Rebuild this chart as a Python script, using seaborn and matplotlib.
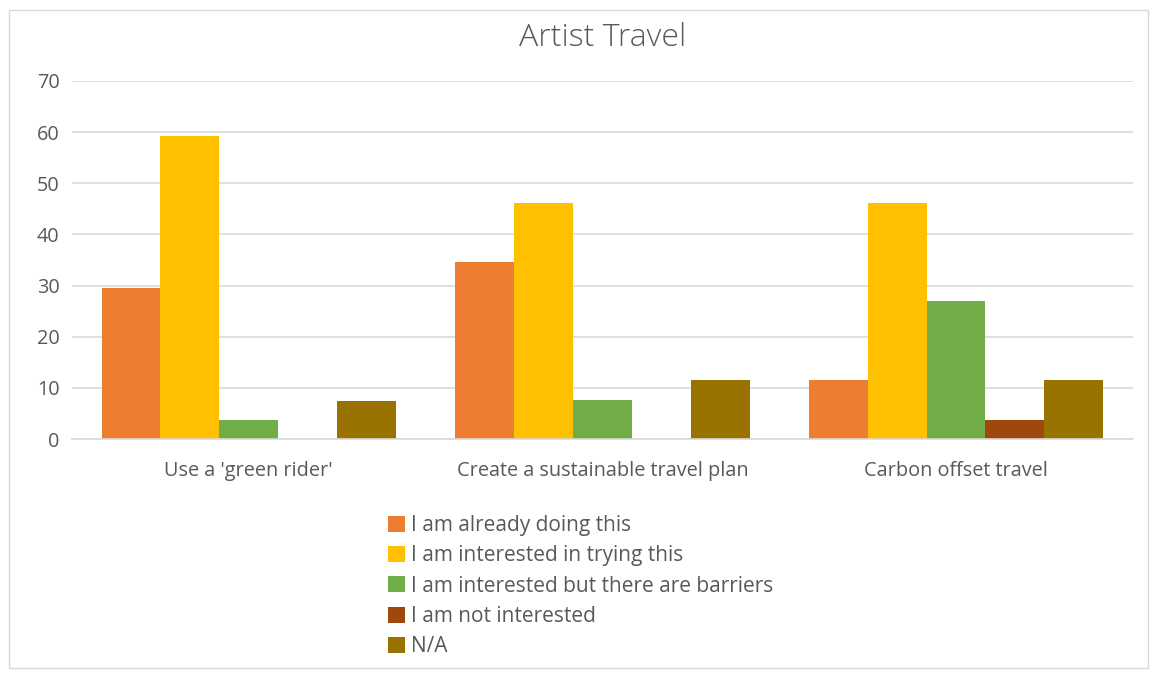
import matplotlib
matplotlib.use("Agg")
import matplotlib.pyplot as plt
import seaborn as sns
import pandas as pd
from matplotlib.patches import Rectangle

categories = ["Use a 'green rider'", "Create a sustainable travel plan", "Carbon offset travel"]
series_names = ["I am already doing this", "I am interested in trying this",
                "I am interested but there are barriers", "I am not interested", "N/A"]
already = [29.6, 34.6, 11.5]
trying = [59.3, 46.2, 46.2]
barriers = [3.7, 7.7, 26.9]
not_interested = [0.0, 0.0, 3.8]
na = [7.4, 11.5, 11.5]
colors = ["#ED7D31", "#FFC000", "#70AD47", "#9E480E", "#997300"]
yticks = [0, 10, 20, 30, 40, 50, 60, 70]

rows = []
for name, vals in zip(series_names, [already, trying, barriers, not_interested, na]):
    for c, v in zip(categories, vals):
        rows.append({"category": c, "series": name, "value": v})
df = pd.DataFrame(rows)

sns.set_theme(style="white")
plt.rcParams['font.family'] = ['Open Sans', 'DejaVu Sans']
text_color = "#595959"

fig = plt.figure(figsize=(11.5, 6.75), dpi=100)
ax = fig.add_axes([0.0626, 0.3496, 0.9224, 0.5304])

sns.barplot(data=df, x="category", y="value", hue="series", order=categories,
            hue_order=series_names, palette=colors, width=0.833, gap=0,
            saturation=1, linewidth=0, ax=ax, legend=True)

ax.set_ylim(0, 70)
ax.set_yticks(yticks)
ax.set_xlim(-0.5, 2.5)
ax.yaxis.grid(True, color="#D9D9D9", linewidth=1.2)
ax.set_axisbelow(True)
for s in ["top", "right", "left"]:
    ax.spines[s].set_visible(False)
ax.spines["bottom"].set_color("#D9D9D9")
ax.spines["bottom"].set_linewidth(1.2)
ax.tick_params(axis="both", length=0, labelsize=14.3, colors=text_color)
ax.tick_params(axis="x", pad=16)
ax.tick_params(axis="y", pad=9)
ax.set_xlabel("")
ax.set_ylabel("")
ax.set_title("Artist Travel", fontsize=23, color=text_color, pad=25,
             family=['Open Sans', 'DejaVu Sans'], fontweight="light")

leg = ax.legend(loc="upper left", bbox_to_anchor=(0.298, -0.212), ncol=1, frameon=False,
                fontsize=15, handlelength=0.8, handleheight=0.8, handletextpad=0.3,
                labelspacing=0.45, borderaxespad=0, borderpad=0)
for t in leg.get_texts():
    t.set_color(text_color)

fig.patches.append(Rectangle((0.008, 0.01), 0.99, 0.975, transform=fig.transFigure,
                             fill=False, edgecolor="#D9D9D9", linewidth=1))

fig.savefig("out.png", dpi=100)
